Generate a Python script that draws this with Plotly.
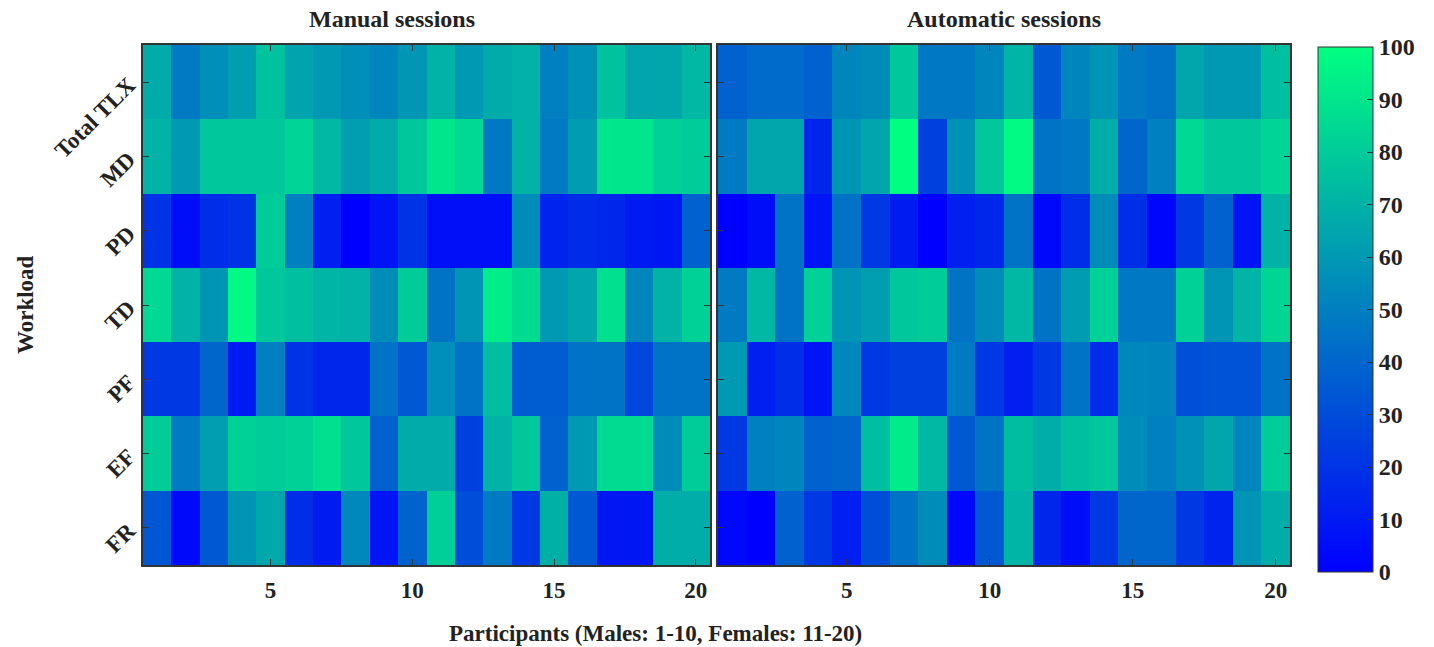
import plotly.graph_objects as go

workload = ["Total TLX", "MD", "PD", "TD", "PF", "EF", "FR"]
participants = list(range(1, 21))

manual_tlx = [67, 48, 56, 62, 76, 64, 60, 56, 52, 59, 70, 60, 67, 70, 50, 57, 76, 65, 65, 72]
manual_md = [70, 60, 78, 78, 78, 83, 72, 62, 67, 78, 90, 85, 47, 70, 48, 61, 90, 90, 82, 80]
manual_pd = [20, 5, 18, 20, 80, 50, 12, 0, 8, 20, 6, 6, 6, 55, 14, 17, 15, 10, 9, 38]
manual_td = [85, 70, 58, 98, 78, 75, 71, 70, 55, 80, 45, 58, 93, 86, 60, 65, 88, 52, 70, 82]
manual_pf = [22, 22, 40, 10, 50, 20, 15, 15, 45, 35, 56, 45, 75, 36, 36, 45, 45, 28, 45, 45]
manual_ef = [80, 48, 62, 82, 80, 82, 88, 78, 38, 67, 67, 25, 70, 78, 38, 60, 86, 86, 55, 80]
manual_fr = [34, 4, 35, 58, 66, 18, 10, 53, 8, 39, 81, 30, 48, 22, 69, 35, 9, 9, 68, 68]

auto_tlx = [38, 42, 42, 38, 52, 55, 78, 47, 47, 52, 71, 35, 52, 58, 48, 45, 65, 60, 60, 75]
auto_md = [48, 65, 65, 15, 58, 65, 100, 25, 57, 78, 98, 45, 47, 68, 40, 50, 85, 78, 78, 83]
auto_pd = [0, 5, 45, 8, 45, 22, 10, 0, 12, 15, 45, 3, 18, 55, 18, 2, 22, 38, 8, 70]
auto_td = [48, 72, 45, 82, 58, 62, 78, 80, 45, 55, 72, 45, 61, 82, 47, 47, 82, 58, 71, 84]
auto_pf = [60, 12, 18, 8, 53, 22, 25, 25, 48, 22, 12, 22, 45, 18, 53, 52, 31, 32, 32, 45]
auto_ef = [22, 50, 52, 38, 40, 75, 92, 72, 35, 45, 74, 68, 75, 78, 55, 50, 57, 65, 52, 80]
auto_fr = [3, 0, 38, 22, 12, 30, 45, 55, 3, 35, 71, 15, 5, 22, 40, 40, 22, 14, 58, 68]

manual = [manual_tlx, manual_md, manual_pd, manual_td, manual_pf, manual_ef, manual_fr]
automatic = [auto_tlx, auto_md, auto_pd, auto_td, auto_pf, auto_ef, auto_fr]

W, H = 1434, 647


def px(x):
    return x / W


def py(y):
    return 1 - y / H


FONT = "Liberation Serif"
winter = [[0.0, "#0000FF"], [1.0, "#00FF80"]]

fig = go.Figure()
fig.add_trace(go.Heatmap(z=manual, x=participants, y=workload, colorscale=winter,
                         zmin=0, zmax=100, xaxis="x", yaxis="y", showscale=False))
fig.add_trace(go.Heatmap(z=automatic, x=participants, y=workload, colorscale=winter,
                         zmin=0, zmax=100, xaxis="x2", yaxis="y2",
                         colorbar=dict(x=px(1318), xanchor="left", xpad=0, ypad=0,
                                       y=py(572), yanchor="bottom",
                                       len=525 / H, lenmode="fraction", thickness=55,
                                       thicknessmode="pixels", outlinewidth=1, outlinecolor="#333",
                                       tickvals=list(range(0, 101, 10)), ticks="inside",
                                       ticklen=6, tickcolor="#333",
                                       tickfont=dict(size=24, family=FONT, color="#222", weight="bold"))))

ydom = [py(565), py(45)]
axis_common = dict(showline=True, linecolor="#333", linewidth=1.5, mirror="ticks",
                   ticks="inside", ticklen=6, tickcolor="#333", showgrid=False, zeroline=False,
                   automargin=False)
fig.update_layout(
    width=W, height=H,
    margin=dict(l=0, r=0, t=0, b=0),
    plot_bgcolor="white", paper_bgcolor="white",
    font=dict(family=FONT, size=23, color="#222", weight="bold"),
    xaxis=dict(domain=[px(143), px(710)], range=[0.5, 20.5], tickvals=[5, 10, 15, 20],
               anchor="y", ticklabelstandoff=4, **axis_common),
    yaxis=dict(domain=ydom, autorange="reversed", tickangle=-45, anchor="x",
               ticklabelstandoff=8,
               categoryorder="array", categoryarray=workload, **axis_common),
    xaxis2=dict(domain=[px(718), px(1290)], range=[0.5, 20.5], tickvals=[5, 10, 15, 20],
                anchor="y2", ticklabelstandoff=4, **axis_common),
    yaxis2=dict(domain=ydom, autorange="reversed", showticklabels=False, anchor="x2",
                categoryorder="array", categoryarray=workload, **axis_common),
    annotations=[
        dict(text="Manual sessions", x=px(392), y=py(19), xref="paper", yref="paper",
             xanchor="center", yanchor="middle", showarrow=False, font=dict(size=24)),
        dict(text="Automatic sessions", x=px(1004), y=py(19), xref="paper", yref="paper",
             xanchor="center", yanchor="middle", showarrow=False, font=dict(size=24)),
        dict(text="Participants (Males: 1-10, Females: 11-20)", x=px(655), y=py(633),
             xref="paper", yref="paper", xanchor="center", yanchor="middle",
             showarrow=False, font=dict(size=23)),
        dict(text="Workload", x=px(25), y=py(305), xref="paper", yref="paper",
             xanchor="center", yanchor="middle", showarrow=False, textangle=-90,
             font=dict(size=23)),
    ],
)

fig.write_html("out.html", config={"displayModeBar": False},
               post_script="document.body.style.margin='0';document.body.style.overflow='hidden';")
